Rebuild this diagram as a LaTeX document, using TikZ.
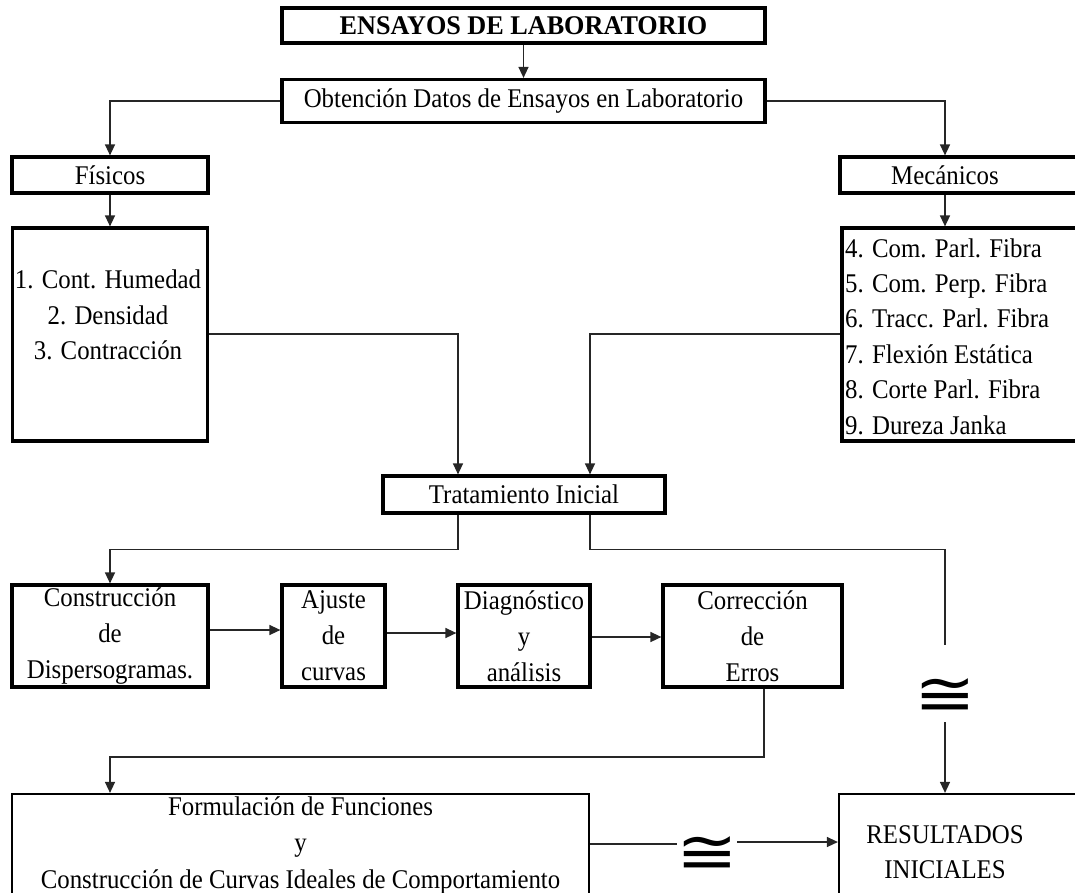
\documentclass[tikz,border=0pt]{standalone}
\usepackage{fontspec}
\setmainfont{Liberation Serif}[FakeStretch=0.92]
\newfontfamily\ensfont{Liberation Serif}[FakeStretch=0.97]
\newfontfamily\congfont{DejaVu Sans}
\usetikzlibrary{arrows.meta}
\begin{document}
\begin{tikzpicture}[x=1pt,y=-1pt,
  box/.style={draw, line width=3.2pt, inner sep=0pt, rectangle, font=\fontsize{27}{36}\selectfont, align=center},
  thinbox/.style={box, line width=2.2pt},
  txt/.style={font=\fontsize{27}{35.4}\selectfont, align=center, inner sep=0pt},
  congsym/.style={font=\fontsize{46}{46}\congfont, inner sep=0pt},
  conn/.style={line width=1.4pt, draw=black!85},
  arr/.style={conn, -{Triangle[length=11pt,width=10pt]}},
]
\useasboundingbox (0,0) rectangle (1075,892);
\clip (0,0) rectangle (1075,892);
% boxes
\node[box, minimum width=483pt, minimum height=35pt, font=\fontsize{27}{30}\ensfont\bfseries] (ens) at (523.5,25.5) {ENSAYOS DE LABORATORIO};
\node[box, minimum width=483pt, minimum height=43pt] (obt) at (523.5,101) {Obtención Datos de Ensayos en Laboratorio};
\node[box, minimum width=196pt, minimum height=36pt] (fis) at (110,175) {Físicos};
\node[box, minimum width=245pt, minimum height=36pt] (mec) at (962.5,175) {};
\node[txt] (mect) at (945,175) {Mecánicos};
\node[box, minimum width=195pt, minimum height=213pt] (fislist) at (110,334.5) {};
\node[txt] (fislistt) at (108,315) {1. Cont. Humedad\\2. Densidad\\3. Contracción};
\node[box, minimum width=243pt, minimum height=213pt] (meclist) at (963.5,334.5) {};
\node[txt, anchor=west, align=left] (meclistt) at (845,336.5) {4. Com. Parl. Fibra\\5. Com. Perp. Fibra\\6. Tracc. Parl. Fibra\\7. Flexión Estática\\8. Corte Parl. Fibra\\9. Dureza Janka};
\node[box, minimum width=282pt, minimum height=37pt] (trat) at (524,494.5) {Tratamiento Inicial};
\node[box, minimum width=196pt, minimum height=102pt] (cons) at (110,636) {Construcción\\de\\Dispersogramas.};
\node[box, minimum width=103pt, minimum height=102pt] (aju) at (333.5,636) {Ajuste\\de\\curvas};
\node[box, minimum width=132pt, minimum height=102pt] (diag) at (524,636) {Diagnóstico\\y\\análisis};
\node[box, minimum width=179pt, minimum height=102pt] (corr) at (752.5,636) {Corrección\\de\\Erros};
\node[thinbox, minimum width=577pt, minimum height=106pt] (form) at (300.5,847) {};
\node[txt, font=\fontsize{27}{36.5}\selectfont] (formt) at (300.5,845) {Formulación de Funciones\\y\\Construcción de Curvas Ideales de Comportamiento};
\node[thinbox, minimum width=246pt, minimum height=106pt] (res) at (962,847) {};
\node[txt] (rest) at (945,852) {RESULTADOS\\INICIALES};
\node[congsym] (cong1) at (945,697) {\scalebox{1.6}[1.35]{≅}};
\node[congsym] (cong2) at (707,855) {\scalebox{1.6}[1.35]{≅}};
\coordinate (c1) at (945,645);
% connectors
\draw[arr] (ens) -- (obt);
\draw[arr] (obt.west) -| (fis.north);
\draw[arr] (obt.east) -| (mect |- mec.north);
\draw[arr] (fis) -- (fislist);
\draw[arr] (mect |- mec.south) -- (mect |- meclist.north);
\draw[arr] (fislist.east |- 0,334) -| ([xshift=-66pt]trat.north);
\draw[arr] (meclist.west |- 0,334) -| ([xshift=66pt]trat.north);
\draw[arr] ([xshift=-66pt]trat.south) -- ++(0,35) -| (cons.north);
\draw[conn] ([xshift=66pt]trat.south) -- ++(0,35) -| (c1);
\draw[arr] (cong1 |- 0,722) -- (res.north -| cong1);
\draw[arr] (cons.east |- 0,630) -- (aju.west |- 0,630);
\draw[arr] (aju.east |- 0,633) -- (diag.west |- 0,633);
\draw[arr] (diag.east |- 0,637) -- (corr.west |- 0,637);
\draw[arr] (corr.south -| 764,0) -- (764,757) -| (fis |- form.north);
\draw[conn] (form.east |- 0,844) -- (677,844);
\draw[arr] (737,842) -- (res.west |- 0,842);
\end{tikzpicture}
\end{document}
